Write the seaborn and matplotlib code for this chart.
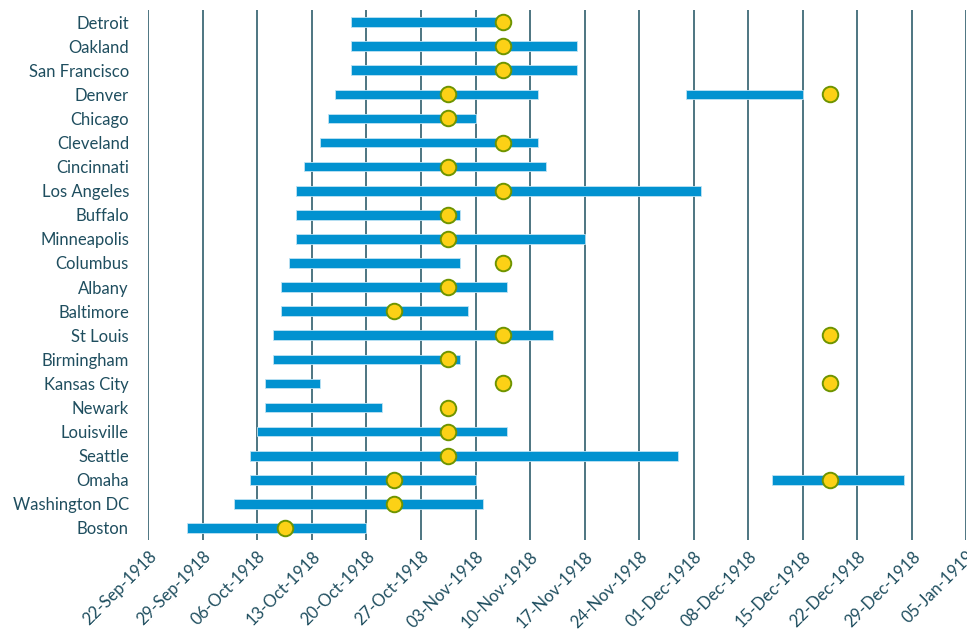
import matplotlib
matplotlib.use("Agg")
import matplotlib.pyplot as plt
import matplotlib.dates as mdates
import numpy as np
import pandas as pd
import seaborn as sns

# Cities, top to bottom
cities = ["Detroit", "Oakland", "San Francisco", "Denver", "Chicago", "Cleveland",
          "Cincinnati", "Los Angeles", "Buffalo", "Minneapolis", "Columbus", "Albany",
          "Baltimore", "St Louis", "Birmingham", "Kansas City", "Newark", "Louisville",
          "Seattle", "Omaha", "Washington DC", "Boston"]

# Intervention periods (first period)
start_1 = ["1918-10-18", "1918-10-18", "1918-10-18", "1918-10-16", "1918-10-15", "1918-10-14",
           "1918-10-12", "1918-10-11", "1918-10-11", "1918-10-11", "1918-10-10", "1918-10-09",
           "1918-10-09", "1918-10-08", "1918-10-08", "1918-10-07", "1918-10-07", "1918-10-06",
           "1918-10-05", "1918-10-05", "1918-10-03", "1918-09-27"]
end_1 = ["1918-11-06", "1918-11-16", "1918-11-16", "1918-11-11", "1918-11-03", "1918-11-11",
         "1918-11-12", "1918-12-02", "1918-11-01", "1918-11-17", "1918-11-01", "1918-11-07",
         "1918-11-02", "1918-11-13", "1918-11-01", "1918-10-14", "1918-10-22", "1918-11-07",
         "1918-11-29", "1918-11-03", "1918-11-04", "1918-10-20"]

# Second periods (only some cities)
second_city = ["Denver", "Omaha"]
start_2 = ["1918-11-30", "1918-12-11"]
end_2 = ["1918-12-15", "1918-12-28"]

# Event markers
event_city = ["Detroit", "Oakland", "San Francisco", "Denver", "Denver", "Chicago",
              "Cleveland", "Cincinnati", "Los Angeles", "Buffalo", "Minneapolis",
              "Columbus", "Albany", "Baltimore", "St Louis", "St Louis", "Birmingham",
              "Kansas City", "Kansas City", "Newark", "Louisville", "Seattle",
              "Omaha", "Omaha", "Washington DC", "Boston"]
event_date = ["1918-11-06", "1918-11-06", "1918-11-06", "1918-10-30", "1918-12-18", "1918-10-30",
              "1918-11-06", "1918-10-30", "1918-11-06", "1918-10-30", "1918-10-30",
              "1918-11-06", "1918-10-30", "1918-10-23", "1918-11-06", "1918-12-18", "1918-10-30",
              "1918-11-06", "1918-12-18", "1918-10-30", "1918-10-30", "1918-10-30",
              "1918-10-23", "1918-12-18", "1918-10-23", "1918-10-09"]

# Weekly axis ticks
tick_dates = pd.date_range("1918-09-22", "1919-01-05", freq="7D")

TEXT = "#1f4e5f"
GRID = "#1d4f5f"
BAR = "#0292d0"
DOT = "#fcd116"
DOT_EDGE = "#6e9400"

sns.set_theme(style="white")
plt.rcParams["font.family"] = ["Lato", "DejaVu Sans"]

fig = plt.figure(figsize=(9.67, 6.35), dpi=100)
ax = fig.add_axes([0.1534, 0.1496, 0.8459, 0.8346])

ypos = {c: i for i, c in enumerate(cities)}

periods = pd.DataFrame({
    "city": cities + second_city,
    "start": pd.to_datetime(start_1 + start_2),
    "end": pd.to_datetime(end_1 + end_2),
})
periods["y"] = periods["city"].map(ypos)

events = pd.DataFrame({"city": event_city, "date": pd.to_datetime(event_date)})
# markers sit in the middle of their day
events["x"] = mdates.date2num(events["date"]) + 0.5
events["y"] = events["city"].map(ypos)

# vertical weekly gridlines behind everything
for t in tick_dates:
    ax.axvline(mdates.date2num(t), color=GRID, lw=1.1, zorder=0)

x0 = mdates.date2num(periods["start"])
x1 = mdates.date2num(periods["end"])
ax.barh(periods["y"], x1 - x0, left=x0, height=0.4, color=BAR,
        edgecolor="#bfe3f3", linewidth=0.6, zorder=2)

sns.scatterplot(data=events, x="x", y="y", ax=ax, s=125, color=DOT,
                edgecolor=DOT_EDGE, linewidth=1.4, zorder=3, legend=False)

ax.set_xlim(mdates.date2num(tick_dates[0]), mdates.date2num(tick_dates[-1]))
ax.set_ylim(len(cities) - 0.5, -0.5)

ax.set_yticks(range(len(cities)))
ax.set_yticklabels(cities, fontsize=12, color=TEXT)
ax.set_xticks(mdates.date2num(tick_dates))
ax.set_xticklabels([t.strftime("%d-%b-%Y") for t in tick_dates], rotation=45,
                   ha="right", rotation_mode="anchor", fontsize=12, color=TEXT)
ax.tick_params(axis="y", length=0, pad=14)
ax.tick_params(axis="x", length=0, pad=6)
ax.set_xlabel("")
ax.set_ylabel("")
for s in ax.spines.values():
    s.set_visible(False)

fig.savefig("out.png", dpi=100, facecolor="white")
